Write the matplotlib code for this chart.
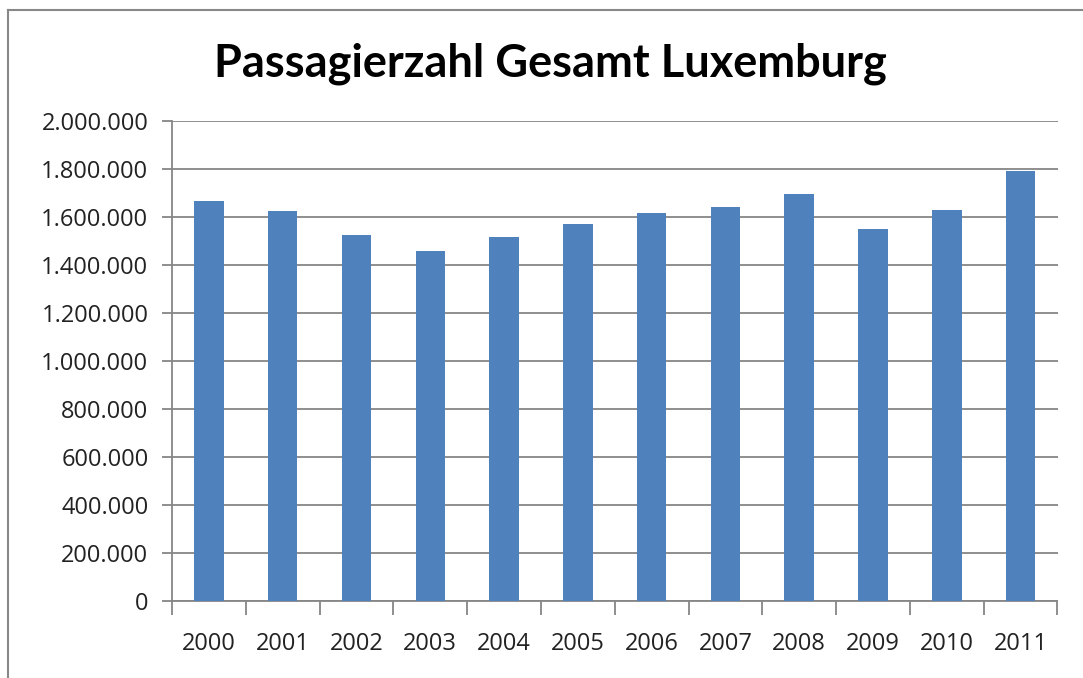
import matplotlib
matplotlib.use("Agg")
import matplotlib.pyplot as plt
from matplotlib.lines import Line2D
from matplotlib.ticker import FuncFormatter

years = ["2000", "2001", "2002", "2003", "2004", "2005",
         "2006", "2007", "2008", "2009", "2010", "2011"]
passengers = [1666000, 1625000, 1525000, 1459000, 1517000, 1571000,
              1617000, 1642000, 1697000, 1550000, 1629000, 1792000]
title = "Passagierzahl Gesamt Luxemburg"

plt.rcParams['font.family'] = ['Open Sans', 'DejaVu Sans']

fig = plt.figure(figsize=(10.83, 6.78), dpi=100)
ax = fig.add_axes([172/1083, 1 - 601/678, (1057.5-172)/1083, (601-121)/678])

x = list(range(len(years)))
ax.bar(x, passengers, width=0.4, color="#4F81BD", zorder=3)

ax.set_xlim(-0.5, len(years) - 0.5)
ax.set_ylim(0, 2000000)
ax.set_yticks(range(0, 2000001, 200000))
ax.yaxis.set_major_formatter(FuncFormatter(lambda v, p: f"{int(v):,}".replace(",", ".")))
ax.set_xticks(x)
ax.set_xticklabels(years)
ax.set_xticks([i - 0.5 for i in range(len(years) + 1)], minor=True)

ax.grid(axis="y", color="#868686", linewidth=1.3, zorder=0)
for s in ["top", "right"]:
    ax.spines[s].set_visible(False)
for s in ["left", "bottom"]:
    ax.spines[s].set_color("#868686")
    ax.spines[s].set_linewidth(1.3)

ax.tick_params(axis="y", length=7, color="#868686", width=1.3, labelsize=17, pad=10, labelcolor="#222222")
ax.tick_params(axis="x", which="major", length=0, labelsize=17, pad=22, labelcolor="#222222")
ax.tick_params(axis="x", which="minor", length=10, color="#868686", width=1.3)

fig.text(550/1083, 1 - 64/678, title, ha="center", va="center",
         fontsize=32.5, fontweight="bold", family=["Lato", "DejaVu Sans"], color="#000000")

# chart area border
fig.add_artist(Line2D([8/1083, 8/1083], [0, 1 - 10/678], transform=fig.transFigure, color="#888888", linewidth=1.5))
fig.add_artist(Line2D([8/1083, 1], [1 - 10/678, 1 - 10/678], transform=fig.transFigure, color="#888888", linewidth=1.5))

fig.savefig("out.png", dpi=100)
